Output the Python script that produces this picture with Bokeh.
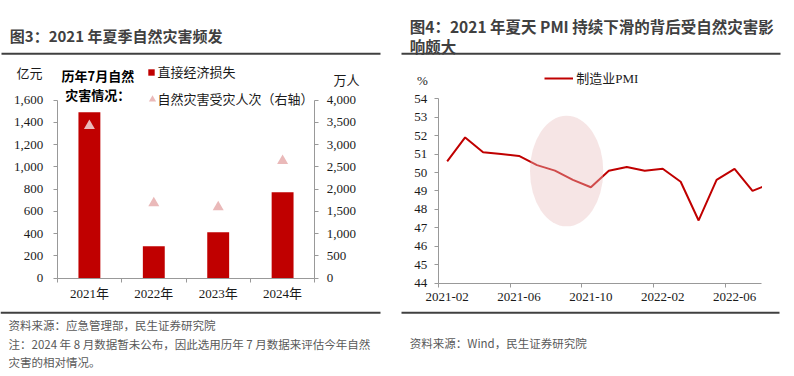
from bokeh.plotting import figure
from bokeh.models import (Range1d, LinearAxis, FixedTicker, NumeralTickFormatter,
                          Label, Legend, LegendItem, BoxAnnotation)
from bokeh.layouts import row
from bokeh.embed import file_html
from bokeh.resources import INLINE

# ---------------- data ----------------
years = ["2021年", "2022年", "2023年", "2024年"]
direct_loss = [1490, 287, 412, 771]          # 直接经济损失（亿元）
affected = [3420, 1685, 1595, 2635]          # 自然灾害受灾人次（万人，右轴）
loss_ticks = [0, 200, 400, 600, 800, 1000, 1200, 1400, 1600]
people_ticks = [0, 500, 1000, 1500, 2000, 2500, 3000, 3500, 4000]

months = ["2021-02", "2021-03", "2021-04", "2021-05", "2021-06", "2021-07",
          "2021-08", "2021-09", "2021-10", "2021-11", "2021-12", "2022-01",
          "2022-02", "2022-03", "2022-04", "2022-05", "2022-06", "2022-07",
          "2022-08"]
pmi = [50.6, 51.9, 51.1, 51.0, 50.9, 50.4, 50.1, 49.6, 49.2, 50.1, 50.3,
       50.1, 50.2, 49.5, 47.4, 49.6, 50.2, 49.0, 49.4]
pmi_ticks = [44, 45, 46, 47, 48, 49, 50, 51, 52, 53, 54]
month_label_step = 4
months_shown = 18
highlight_center = (6.65, 50.08)   # (month index, PMI)
highlight_size = (4.08, 6.0)

# ---------------- styles ----------------
RED = "#c00000"
PINK = "#eab9b9"
AXIS = "#999999"
RULE = "#404040"
TXT = "#1a1a1a"
GREY = "#595959"
CJK = "Noto Sans CJK SC"
MIX = "Liberation Serif, Noto Sans CJK SC"


class Geo:
    """maps canvas pixels (from top-left) to data for a figure whose frame is the whole canvas"""
    def __init__(self, W, H, px0, px1, py0, py1, x0, x1, y0, y1):
        self.W, self.H = W, H
        self.px0, self.py0 = px0, py0
        self.x0, self.y1 = x0, y1
        self.sx = (x1 - x0) / (px1 - px0)
        self.sy = (y1 - y0) / (py1 - py0)

    def xr(self):
        return Range1d(self.x0 - self.px0 * self.sx, self.x0 + (self.W - self.px0) * self.sx)

    def yr(self):
        return Range1d(self.y1 - (self.H - self.py0) * self.sy, self.y1 + self.py0 * self.sy)

    def pt(self, fx, fy):
        return (self.x0 + (fx - self.px0) * self.sx, self.y1 - (fy - self.py0) * self.sy)


def style_axis(ax, standoff):
    ax.axis_line_color = AXIS
    ax.major_tick_line_color = AXIS
    ax.minor_tick_line_color = AXIS
    ax.major_tick_in = 0
    ax.major_tick_out = 4
    ax.minor_tick_in = 0
    ax.minor_tick_out = 0
    ax.major_label_text_font = MIX
    ax.major_label_text_font_size = "13px"
    ax.major_label_text_color = TXT
    ax.major_label_standoff = standoff


def make_fig(g):
    p = figure(frame_width=g.W, frame_height=g.H, min_border=0,
               x_range=g.xr(), y_range=g.yr(),
               output_backend="svg", toolbar_location=None, tools="")
    p.xgrid.visible = False
    p.ygrid.visible = False
    p.outline_line_color = None
    p.background_fill_color = "white"
    p.border_fill_color = "white"
    return p


def text(p, g, fx, fy, s, size="13px", font=MIX, color=TXT, align="left",
         style="normal"):
    x, y = g.pt(fx, fy)
    p.add_layout(Label(x=x, y=y, text=s, text_align=align, text_baseline="middle",
                       text_font=font, text_font_size=size, text_color=color,
                       text_font_style=style))


def box(p, g, fx0, fx1, fy0, fy1, color):
    x0, y0 = g.pt(fx0, fy0)
    x1, y1 = g.pt(fx1, fy1)
    p.add_layout(BoxAnnotation(left=x0, right=x1, top=y0, bottom=y1,
                               fill_color=color, fill_alpha=1, line_color=None,
                               line_alpha=0))


def rule(p, g, fx0, fx1, fy, thick=2.0):
    box(p, g, fx0, fx1, fy - thick / 2, fy + thick / 2, RULE)


def glyph_legend(p, g, r, cx, cy, w, h):
    leg = Legend(items=[LegendItem(label=" ", renderers=[r])],
                 location=(cx - w / 2, g.H - (cy + h / 2)),
                 glyph_width=w, glyph_height=h, label_width=0, label_height=0,
                 label_text_font_size="1px", label_standoff=0,
                 padding=0, margin=0, spacing=0, border_line_color=None,
                 background_fill_alpha=0)
    p.add_layout(leg)


# ---------------- left panel ----------------
gL = Geo(400, 376, 56.7, 314.3, 99.5, 277.7, 0, len(years), 0, loss_ticks[-1])
gL2 = Geo(400, 376, 56.7, 314.3, 99.5, 277.7, 0, len(years), 0, people_ticks[-1])
p1 = make_fig(gL)
p1.extra_y_ranges = {"right": gL2.yr()}

xs = [i + 0.5 for i in range(len(years))]
bars = p1.vbar(x=xs, top=direct_loss, width=0.34, fill_color=RED, line_color=None)
tri = p1.scatter(x=xs, y=affected, marker="triangle", size=11, fill_color=PINK,
                 line_color=None, y_range_name="right")

ax = p1.xaxis[0]
ax.ticker = FixedTicker(ticks=xs, minor_ticks=list(range(len(years) + 1)))
ax.major_label_overrides = {x: y for x, y in zip(xs, years)}
style_axis(ax, 4)
ax.major_tick_out = 0
ax.minor_tick_out = 4
ax.fixed_location = 0
ax.bounds = (0, len(years))

ay = p1.yaxis[0]
ay.ticker = FixedTicker(ticks=loss_ticks)
ay.formatter = NumeralTickFormatter(format="0,0")
style_axis(ay, 10)
ay.fixed_location = 0
ay.bounds = (0, loss_ticks[-1])

ay2 = LinearAxis(y_range_name="right", ticker=FixedTicker(ticks=people_ticks),
                 formatter=NumeralTickFormatter(format="0,0"))
style_axis(ay2, 8)
ay2.fixed_location = len(years)
ay2.bounds = (0, people_ticks[-1])
p1.add_layout(ay2, "right")

glyph_legend(p1, gL, bars, 150.5, 71.7, 8, 8)
glyph_legend(p1, gL, tri, 151.7, 99.3, 18, 18)

text(p1, gL, 9.3, 35, "图3：2021 年夏季自然灾害频发", size="15px", font=CJK,
     color=RULE, style="bold")
rule(p1, gL, 1, 380, 53.3)
text(p1, gL, 16, 73, "亿元")
text(p1, gL, 333, 80, "万人")
text(p1, gL, 97.3, 75, "历年7月自然", font=CJK, color="#000000", align="center", style="bold")
text(p1, gL, 97.3, 94, "灾害情况：", font=CJK, color="#000000", align="center", style="bold")
text(p1, gL, 157, 71.7, "直接经济损失")
text(p1, gL, 157, 98.7, "自然灾害受灾人次（右轴）")
rule(p1, gL, 0, 380, 312.3)
text(p1, gL, 8, 324.5, "资料来源：应急管理部，民生证券研究院", size="11.5px", font=CJK, color=GREY)
text(p1, gL, 8, 343, "注：2024 年 8 月数据暂未公布，因此选用历年 7 月数据来评估今年自然",
     size="11.5px", font=CJK, color=GREY)
text(p1, gL, 8, 361, "灾害的相对情况。", size="11.5px", font=CJK, color=GREY)

# ---------------- right panel ----------------
gR = Geo(394, 376, 37.7, 361, 98.2, 282.7, -0.5, months_shown - 0.5,
         pmi_ticks[0], pmi_ticks[-1])
p2 = make_fig(gR)

mx = list(range(len(months)))
line = p2.line(x=mx, y=pmi, line_color=RED, line_width=2)
p2.ellipse(x=[highlight_center[0]], y=[highlight_center[1]],
           width=highlight_size[0], height=highlight_size[1],
           fill_color="#e8bebe", fill_alpha=0.4, line_color=None)
# the plot area ends at the last shown month: hide what lies beyond it
box(p2, gR, 361.5, 394, 90, 283, "white")

bx = p2.xaxis[0]
lab_idx = list(range(0, months_shown, month_label_step))
bx.ticker = FixedTicker(ticks=lab_idx, minor_ticks=[i - 0.5 for i in lab_idx])
bx.major_label_overrides = {i: months[i] for i in lab_idx}
style_axis(bx, 6)
bx.major_tick_out = 0
bx.minor_tick_out = 4
bx.fixed_location = pmi_ticks[0]
bx.bounds = (-0.5, months_shown - 0.5)

by = p2.yaxis[0]
by.ticker = FixedTicker(ticks=pmi_ticks)
style_axis(by, 7)
by.fixed_location = -0.5
by.bounds = (pmi_ticks[0], pmi_ticks[-1])

glyph_legend(p2, gR, line, 158.7, 78.3, 29, 10)

text(p2, gR, 9.3, 25.3, "图4：2021 年夏天 PMI 持续下滑的背后受自然灾害影", size="15.5px",
     font=CJK, color=RULE, style="bold")
text(p2, gR, 9.3, 45.3, "响颇大", size="15.5px", font=CJK, color=RULE, style="bold")
rule(p2, gR, 1, 380, 53.3)
text(p2, gR, 22, 80, "%", align="center")
text(p2, gR, 175.7, 78.3, "制造业PMI")
rule(p2, gR, 1, 379, 312.3)
text(p2, gR, 9.3, 342.7, "资料来源：Wind，民生证券研究院", size="11.5px", font=CJK, color=GREY)

layout = row(p1, p2, spacing=0)
open("out.html", "w").write(file_html(layout, INLINE))
